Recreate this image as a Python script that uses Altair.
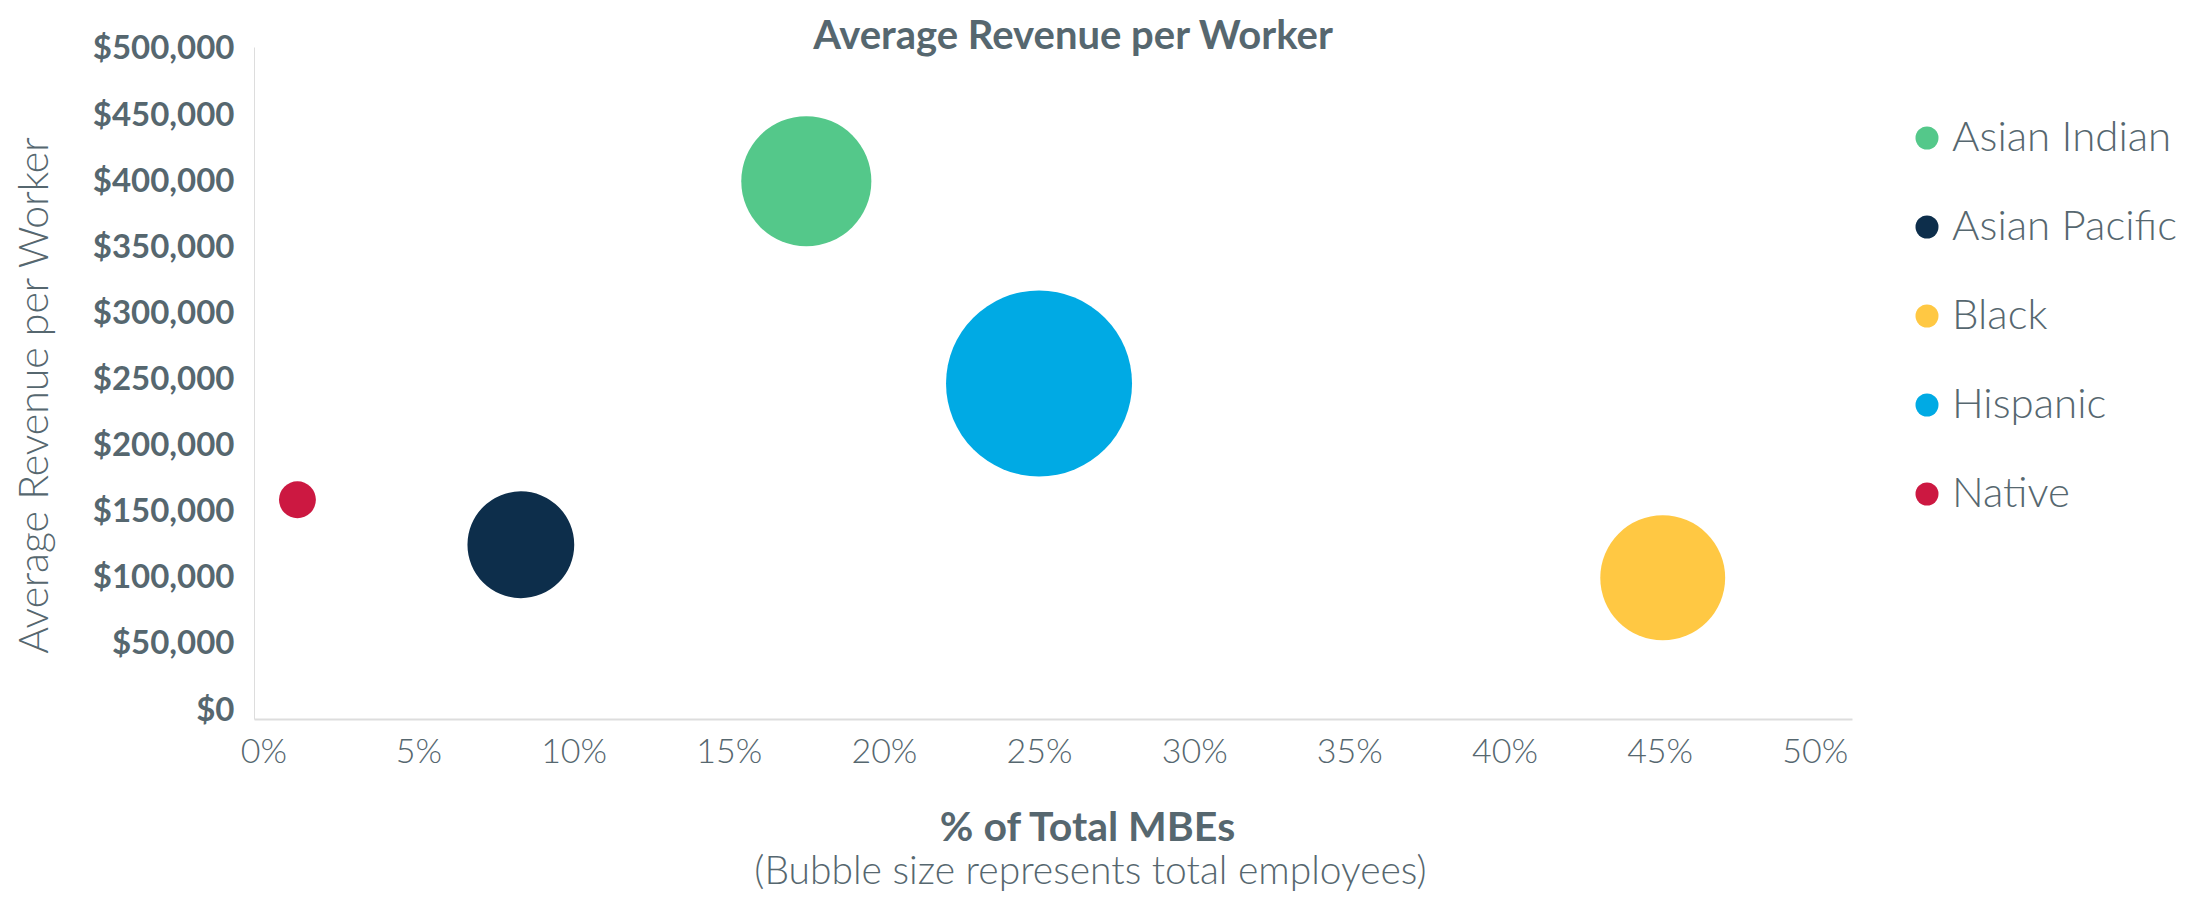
import altair as alt
import pandas as pd

groups = ["Asian Indian", "Asian Pacific", "Black", "Hispanic", "Native"]
pct_mbes = [0.175, 0.083, 0.451, 0.250, 0.011]
revenue_per_worker = [400000, 125000, 100000, 247000, 159000]
employees = [423, 285, 390, 865, 34]
colors = ["#54C88A", "#0D2E4B", "#FFC843", "#00AAE4", "#CC1841"]

df = pd.DataFrame({
    "Group": groups,
    "pct": pct_mbes,
    "rev": revenue_per_worker,
    "emp": employees,
})

TXT = "#56676F"
FONT = "Lato"
max_r = 93

x_scale = alt.Scale(domain=[-0.003, 0.512], nice=False, zero=False)
y_scale = alt.Scale(domain=[-6800, 501500], nice=False, zero=False)

bubbles = alt.Chart(df).mark_circle(opacity=1).encode(
    x=alt.X("pct:Q", scale=x_scale,
            axis=alt.Axis(values=[i * 0.05 for i in range(11)], format=".0%",
                          grid=False, ticks=False, labelPadding=16,
                          labelFontSize=34, labelFont=FONT, labelFontWeight=300,
                          labelColor=TXT, domainColor="#DDDDDD", domainWidth=2,
                          title="% of Total MBEs", titleFont=FONT, titleFontSize=41,
                          titleFontWeight="bold", titleColor=TXT,
                          titleX=833, titleY=121, titleBaseline="alphabetic",
                          titleAlign="center")),
    y=alt.Y("rev:Q", scale=y_scale,
            axis=alt.Axis(values=[i * 50000 for i in range(11)], format="$,.0f",
                          grid=False, ticks=False, labelPadding=20,
                          labelFontSize=33, labelFont=FONT, labelFontWeight="bold",
                          labelColor=TXT, domainColor="#DDDDDD", domainWidth=1,
                          title="Average Revenue per Worker", titleFont=FONT,
                          titleFontSize=41, titleFontWeight=300, titleColor=TXT,
                          titleAngle=-90, titleX=-219, titleY=348,
                          titleAlign="center", titleBaseline="middle")),
    size=alt.Size("emp:Q", scale=alt.Scale(domain=[0, 865], range=[0, (2 * max_r) ** 2], zero=True),
                  legend=None),
    color=alt.Color("Group:N", scale=alt.Scale(domain=groups, range=colors),
                    legend=alt.Legend(title=None, orient="none", legendX=1652, legendY=70,
                                      symbolType="circle", symbolSize=529, symbolOpacity=1,
                                      labelFont=FONT, labelFontSize=42, labelFontWeight=300,
                                      labelColor=TXT, labelOffset=4, rowPadding=47,
                                      labelLimit=500, padding=0)),
)

subtitle_layer = alt.Chart(df).mark_point(opacity=0).encode(
    x=alt.X("pct:Q", scale=x_scale,
            axis=alt.Axis(orient="bottom", labels=False, ticks=False, domain=False, grid=False,
                          title="(Bubble size represents total employees)", titleFont=FONT,
                          titleFontSize=39, titleFontWeight=300, titleColor=TXT,
                          titleX=836, titleY=164, titleBaseline="alphabetic",
                          titleAlign="center")),
    y=alt.Y("rev:Q", scale=y_scale),
)

chart = alt.layer(bubbles, subtitle_layer).resolve_axis(x="independent").properties(
    width=1598,
    height=672,
    title=alt.TitleParams("Average Revenue per Worker", font=FONT, fontSize=40,
                          fontWeight="bold", color=TXT, anchor="middle", dx=20, dy=60,
                          baseline="alphabetic", offset=4),
    autosize=alt.AutoSizeParams(type="none"),
    padding={"left": 246, "top": 39, "right": 328, "bottom": 172},
).configure_view(stroke=None)

chart.save("out.html", embed_options={"renderer": "svg", "actions": False})
